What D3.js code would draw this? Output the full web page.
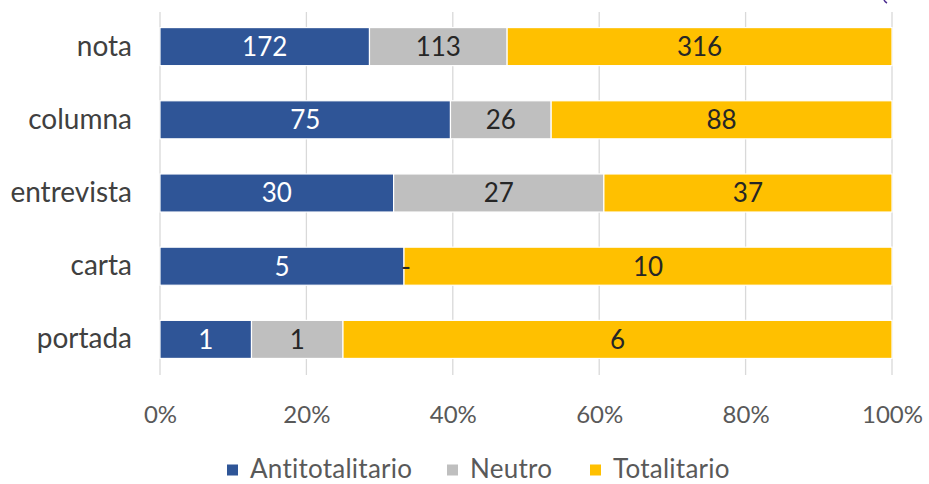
<!DOCTYPE html>
<html>
<head>
<meta charset="utf-8">
<script src="https://cdn.jsdelivr.net/npm/d3@7"></script>
<style>
  html, body { margin: 0; padding: 0; background: #fff; }
  svg { display: block; }
  text { font-family: Lato, "Open Sans", "Liberation Sans", sans-serif; }
</style>
</head>
<body>
<svg id="chart" width="929" height="484"></svg>
<script>
// Tipo de pieza periodística
const categories = ["nota", "columna", "entrevista", "carta", "portada"];
const seriesNames = ["Antitotalitario", "Neutro", "Totalitario"];
const antitotalitario = [172, 75, 30, 5, 1];
const neutro = [113, 26, 27, 0, 1];
const totalitario = [316, 88, 37, 10, 6];
const tickLabels = ["0%", "20%", "40%", "60%", "80%", "100%"];
const colors = ["#2F5597", "#BFBFBF", "#FFC000"];
const labelColors = ["#ffffff", "#262626", "#262626"];

const rows = categories.map((c, i) => ({
  cat: c,
  Antitotalitario: antitotalitario[i],
  Neutro: neutro[i],
  Totalitario: totalitario[i]
}));

const svg = d3.select("#chart");
const margin = { left: 160, right: 37, top: 10, bottom: 108 };
const W = 929, H = 484;

const x = d3.scaleLinear().domain([0, 1]).range([margin.left, W - margin.right]);
const y = d3.scaleBand().domain(categories).range([margin.top, H - margin.bottom]).paddingInner(0.48).paddingOuter(0.24);

// Normalise to shares of each row total
const stack = d3.stack().keys(seriesNames).offset(d3.stackOffsetExpand);
const layers = stack(rows);

// Vertical gridlines
const grid = svg.append("g");
grid.selectAll("line")
  .data(d3.range(0, 1.0001, 0.2))
  .join("line")
  .attr("x1", d => x(d)).attr("x2", d => x(d))
  .attr("y1", 12).attr("y2", 375)
  .attr("stroke", "#D9D9D9").attr("stroke-width", 1.3);

// Bars
const layerG = svg.append("g").selectAll("g")
  .data(layers)
  .join("g")
  .attr("fill", (d, i) => colors[i]);

layerG.selectAll("rect")
  .data(d => d)
  .join("rect")
  .attr("x", d => x(d[0]))
  .attr("width", d => Math.max(0, x(d[1]) - x(d[0])))
  .attr("y", d => y(d.data.cat))
  .attr("height", y.bandwidth())
  .attr("stroke", "#ffffff")
  .attr("stroke-width", 1.2);

// Value labels
layers.forEach((layer, si) => {
  svg.append("g").selectAll("text")
    .data(layer)
    .join("text")
    .attr("x", d => (x(d[0]) + x(d[1])) / 2 + (d[1] - d[0] === 0 ? 2 : 0))
    .attr("y", d => y(d.data.cat) + y.bandwidth() / 2)
    .attr("dy", "0.36em")
    .attr("text-anchor", "middle")
    .attr("font-size", 26)
    .attr("fill", labelColors[si])
    .text(d => {
      const v = d.data[layer.key];
      return v === 0 ? "-" : v;
    });
});

// Category axis
const yAxis = svg.append("g")
  .attr("transform", `translate(${margin.left - 28},0)`)
  .call(d3.axisLeft(y).tickSize(0).tickPadding(0));
yAxis.select(".domain").remove();
yAxis.selectAll("text")
  .attr("font-size", 28)
  .attr("fill", "#404040")
  .attr("dy", "0.32em");

// Percentage axis
const xAxis = svg.append("g")
  .attr("transform", `translate(0,${H - margin.bottom})`)
  .call(d3.axisBottom(x).tickValues(d3.range(0, 1.0001, 0.2)).tickFormat((d, i) => tickLabels[i]).tickSize(0).tickPadding(30));
xAxis.select(".domain").remove();
xAxis.selectAll("text")
  .attr("font-size", 24)
  .attr("fill", "#595959");

// Legend
const legendTextX = [250, 470, 613];
const legend = svg.append("g").selectAll("g")
  .data(seriesNames)
  .join("g")
  .attr("transform", (d, i) => `translate(${legendTextX[i]},469)`);
legend.append("rect")
  .attr("x", -23).attr("y", -4.5).attr("width", 11).attr("height", 11)
  .attr("fill", (d, i) => colors[i]);
legend.append("text")
  .attr("x", 0).attr("y", 0).attr("dy", "0.35em")
  .attr("font-size", 26)
  .attr("letter-spacing", 0.25)
  .attr("fill", "#595959")
  .text(d => d);

// Corner stroke
svg.append("path")
  .attr("d", "M884,0 Q885,2 887,3")
  .attr("fill", "none")
  .attr("stroke", "#4B2C8F")
  .attr("stroke-width", 1.5);
</script>
</body>
</html>
